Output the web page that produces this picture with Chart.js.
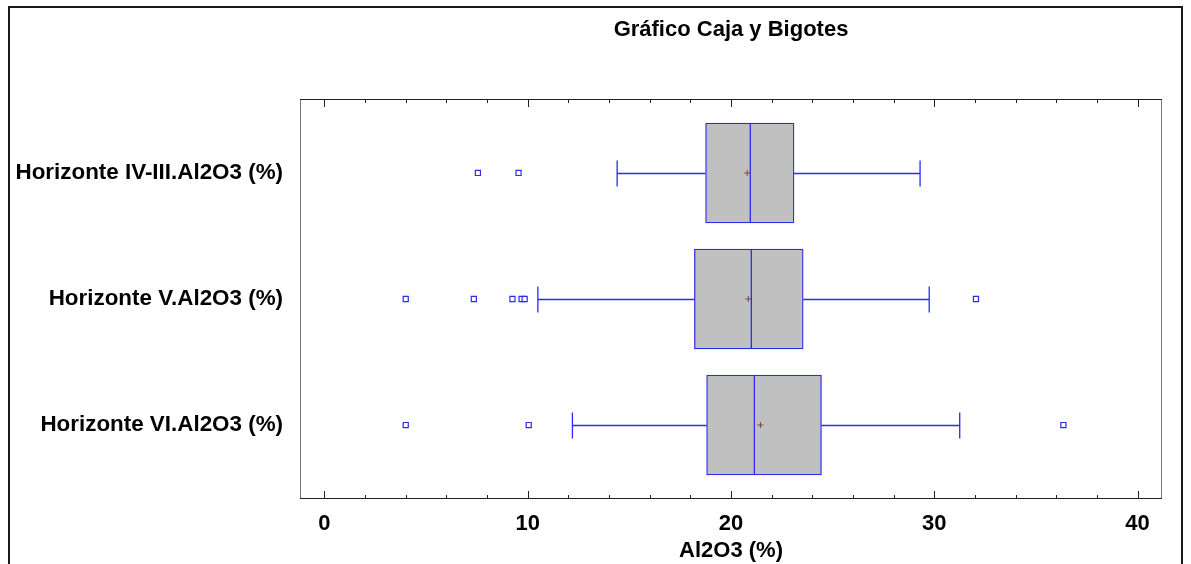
<!DOCTYPE html>
<html>
<head>
<meta charset="utf-8">
<script src="https://cdn.jsdelivr.net/npm/chart.js@4.4.0/dist/chart.umd.min.js"></script>
<style>
  html, body { margin: 0; padding: 0; background: #fff; }
  #wrap { position: relative; width: 1191px; height: 564px; overflow: hidden; }
  #frame { position: absolute; left: 8px; top: 6px; width: 1171px; height: 620px;
           border: 2px solid #1a1a1a; border-bottom: none; pointer-events: none; }
</style>
</head>
<body>
<div id="wrap">
  <canvas id="boxChart" width="1191" height="564"></canvas>
  <div id="frame"></div>
</div>
<script>
// data
const chartTitle = 'Gráfico Caja y Bigotes';
const labels = ['Horizonte IV-III.Al2O3 (%)', 'Horizonte V.Al2O3 (%)', 'Horizonte VI.Al2O3 (%)'];
const yPos = [1, 2, 3];
const wMin   = [14.4, 10.5, 12.2];
const q1     = [18.75, 18.2, 18.8];
const median = [20.95, 21.0, 21.15];
const q3     = [23.1, 23.55, 24.45];
const wMax   = [29.3, 29.75, 31.25];
const mean   = [20.8, 20.85, 21.45];
const outliers = [
  [7.55, 9.55],
  [4.0, 7.35, 9.25, 9.7, 9.85, 32.05],
  [4.0, 10.05, 36.35]
];
const xMajorTicks = [0, 10, 20, 30, 40];
const xMinorTicks = [0, 2, 4, 6, 8, 10, 12, 14, 16, 18, 20, 22, 24, 26, 28, 30, 32, 34, 36, 38, 40];

const FONT = '"Liberation Sans", Arial, sans-serif';
const blue = '#2b2bf2';

const boxExtras = {
  id: 'boxExtras',
  beforeDatasetsDraw(chart) {
    const {ctx, scales: {x, y}} = chart;
    ctx.save();
    ctx.strokeStyle = blue;
    ctx.lineWidth = 1.3;
    yPos.forEach((p, i) => {
      const yc = Math.round(y.getPixelForValue(p)) + 0.5;
      const lo = x.getPixelForValue(wMin[i]), hi = x.getPixelForValue(wMax[i]);
      ctx.beginPath();
      ctx.moveTo(lo, yc); ctx.lineTo(x.getPixelForValue(q1[i]), yc);
      ctx.moveTo(x.getPixelForValue(q3[i]), yc); ctx.lineTo(hi, yc);
      // caps
      ctx.moveTo(lo, yc - 13); ctx.lineTo(lo, yc + 13);
      ctx.moveTo(hi, yc - 13); ctx.lineTo(hi, yc + 13);
      ctx.stroke();
    });
    ctx.restore();
  },
  afterDatasetsDraw(chart) {
    const {ctx, chartArea: a, scales: {x, y}} = chart;
    ctx.save();
    // medians
    ctx.strokeStyle = blue;
    ctx.lineWidth = 1.3;
    yPos.forEach((p, i) => {
      const yc = y.getPixelForValue(p);
      const mx = x.getPixelForValue(median[i]);
      ctx.beginPath();
      ctx.moveTo(mx, yc - 50); ctx.lineTo(mx, yc + 50);
      ctx.stroke();
    });
    // frame
    ctx.lineWidth = 1;
    ctx.strokeStyle = '#7a7a7a';
    ctx.beginPath();
    ctx.moveTo(a.left + 0.5, a.top); ctx.lineTo(a.left + 0.5, a.bottom);
    ctx.moveTo(a.right - 0.5, a.top); ctx.lineTo(a.right - 0.5, a.bottom);
    ctx.stroke();
    ctx.strokeStyle = '#222';
    ctx.beginPath();
    ctx.moveTo(a.left, a.top + 0.5); ctx.lineTo(a.right, a.top + 0.5);
    ctx.moveTo(a.left, a.bottom - 0.5); ctx.lineTo(a.right, a.bottom - 0.5);
    // inside ticks, top and bottom
    xMinorTicks.forEach(v => {
      const px = Math.round(x.getPixelForValue(v)) + 0.5;
      const len = xMajorTicks.includes(v) ? 8 : 4;
      ctx.moveTo(px, a.top); ctx.lineTo(px, a.top + len);
      ctx.moveTo(px, a.bottom); ctx.lineTo(px, a.bottom - len);
    });
    ctx.stroke();
    // title
    ctx.fillStyle = '#000';
    ctx.font = 'bold 22px ' + FONT;
    ctx.textAlign = 'center';
    ctx.textBaseline = 'middle';
    ctx.fillText(chartTitle, (a.left + a.right) / 2, 30);
    ctx.restore();
  }
};

new Chart(document.getElementById('boxChart'), {
  type: 'bar',
  data: {
    datasets: [
      {
        type: 'scatter',
        order: 0,
        data: mean.map((v, i) => ({x: v, y: yPos[i]})),
        pointStyle: 'cross',
        pointRadius: 3,
        borderColor: '#7a4a30',
        borderWidth: 1
      },
      {
        type: 'scatter',
        order: 1,
        data: outliers.flatMap((arr, i) => arr.map(v => ({x: v, y: yPos[i]}))),
        pointStyle: 'rect',
        pointRadius: 3.6,
        backgroundColor: '#fff',
        borderColor: blue,
        borderWidth: 1.2
      },
      {
        order: 2,
        data: q1.map((v, i) => ({x: [v, q3[i]], y: yPos[i]})),
        backgroundColor: '#c0c0c0',
        borderColor: blue,
        borderWidth: 1.3,
        borderSkipped: false,
        barThickness: 100
      }
    ]
  },
  options: {
    indexAxis: 'y',
    responsive: false,
    animation: false,
    layout: { padding: { top: 99, right: 29, bottom: 0, left: 0 } },
    plugins: {
      legend: { display: false },
      tooltip: { enabled: false },
      title: { display: false }
    },
    scales: {
      x: {
        type: 'linear',
        min: -1.2,
        max: 41.2,
        offset: false,
        grid: { display: false, drawTicks: false },
        border: { display: false },
        afterBuildTicks: s => { s.ticks = xMinorTicks.map(v => ({value: v})); },
        afterFit: s => { s.height = 65; },
        ticks: {
          autoSkip: false,
          maxRotation: 0,
          padding: 12,
          color: '#000',
          font: { family: FONT, size: 22, weight: 'bold' },
          callback: v => xMajorTicks.includes(v) ? String(v) : ''
        },
        title: {
          display: true,
          text: 'Al2O3 (%)',
          color: '#000',
          font: { family: FONT, size: 22, weight: 'bold' },
          padding: { top: 0, bottom: 0 }
        }
      },
      y: {
        type: 'linear',
        reverse: true,
        min: 0.413,
        max: 3.587,
        offset: false,
        grid: { display: false, drawTicks: false },
        border: { display: false },
        afterBuildTicks: s => { s.ticks = yPos.map(v => ({value: v})); },
        afterFit: s => { s.width = 300; },
        ticks: {
          autoSkip: false,
          padding: 17,
          color: '#000',
          font: { family: FONT, size: 22.4, weight: 'bold' },
          callback: v => labels[yPos.indexOf(v)]
        }
      }
    }
  },
  plugins: [boxExtras]
});
</script>
</body>
</html>
